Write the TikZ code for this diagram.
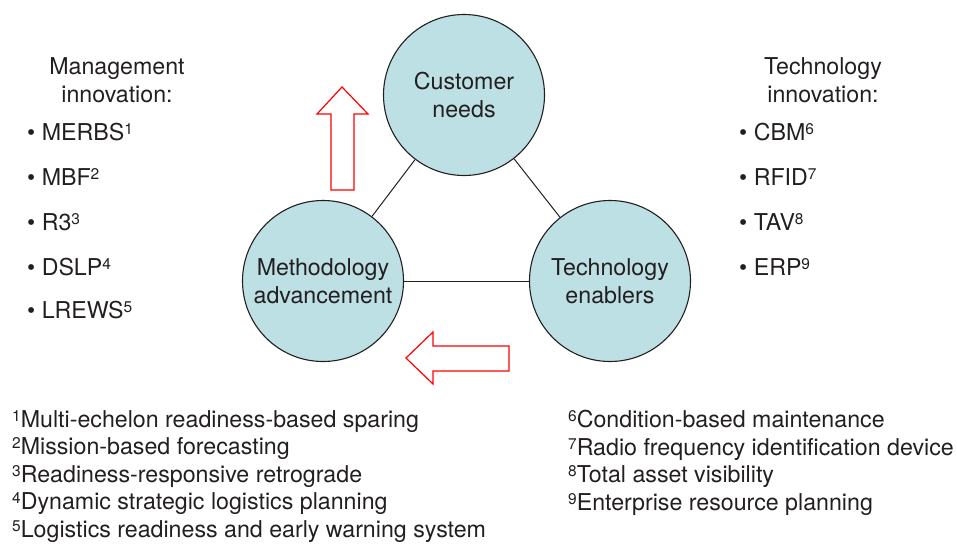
\documentclass[tikz,border=0pt]{standalone}
\usepackage{fontspec}
\setmainfont{TeX Gyre Heros}
\usetikzlibrary{positioning}
\definecolor{hubfill}{RGB}{189,224,229}
\definecolor{ink}{RGB}{35,31,32}
\newcommand{\fnum}[1]{\raisebox{6pt}{\fontsize{15.5}{15.5}\selectfont #1}}
\tikzset{ hub/.style = { circle
                       , draw = ink
                       , fill = hubfill
                       , line width   = 1.1pt
                       , inner sep    = 0pt
                       , minimum size = 161pt
                       , align        = center
                       , text = ink
                       , font = \fontsize{23.2}{28}\selectfont
                       },
          item/.style = { anchor    = base west
                        , inner sep = 0pt
                        , text = ink
                        , font = \fontsize{23.2}{28}\selectfont
                        },
          head/.style = { align     = center
                        , inner sep = 0pt
                        , text = ink
                        , font = \fontsize{23.2}{28}\selectfont
                        },
          note/.style = { anchor    = north west
                        , align     = left
                        , inner sep = 0pt
                        , text = ink
                        , font = \fontsize{23.2}{27.5}\selectfont
                        },
          link/.style = { draw = ink, line width = 1pt },
          hollow/.style = { draw = red, line width = 1.2pt, line join = miter }
        }

\begin{document}
\begin{tikzpicture}[x=1pt,y=-1pt]
    \useasboundingbox (0,0) rectangle (957,544);
    % the three circles
    \node[hub] (cust) at (464,95)  {Customer\\needs};
    \node[hub] (meth) at (323,281) {Methodology\\advancement};
    \node[hub] (tech) at (610,281) {Technology\\enablers};
    \path[link] (cust) edge (meth)
                (cust) edge (tech)
                (meth) edge (tech);
    % open red arrows
    \draw[hollow] (342,87) -- (368,114) -- (354,114) -- (354,190)
                  -- (331,190) -- (331,114) -- (317,114) -- cycle;
    \draw[hollow] (406,358) -- (433,332) -- (433,346) -- (509,346)
                  -- (509,371) -- (433,371) -- (433,384) -- cycle;
    % management side
    \node[head] (mgmt) at (117,80) {Management\\innovation:};
    \node[item] (m1) at (27,140) {\textbullet\ MERBS\fnum{1}};
    \node[item] (m2) at (27,185) {\textbullet\ MBF\fnum{2}};
    \node[item] (m3) at (27,230) {\textbullet\ R3\fnum{3}};
    \node[item] (m4) at (27,275) {\textbullet\ DSLP\fnum{4}};
    \node[item] (m5) at (27,318) {\textbullet\ LREWS\fnum{5}};
    % technology side
    \node[head] (tinn) at (823,80) {Technology\\innovation:};
    \node[item] (t1) at (739,140) {\textbullet\ CBM\fnum{6}};
    \node[item] (t2) at (739,185) {\textbullet\ RFID\fnum{7}};
    \node[item] (t3) at (739,230) {\textbullet\ TAV\fnum{8}};
    \node[item] (t4) at (739,275) {\textbullet\ ERP\fnum{9}};
    % footnotes
    \node[note] (fl) at (12,410) {\fnum{1}Multi-echelon readiness-based sparing\\
                                  \fnum{2}Mission-based forecasting\\
                                  \fnum{3}Readiness-responsive retrograde\\
                                  \fnum{4}Dynamic strategic logistics planning\\
                                  \fnum{5}Logistics readiness and early warning system};
    \node[note] (fr) at (568,410) {\fnum{6}Condition-based maintenance\\
                                   \fnum{7}Radio frequency identification device\\
                                   \fnum{8}Total asset visibility\\
                                   \fnum{9}Enterprise resource planning};
\end{tikzpicture}
\end{document}
